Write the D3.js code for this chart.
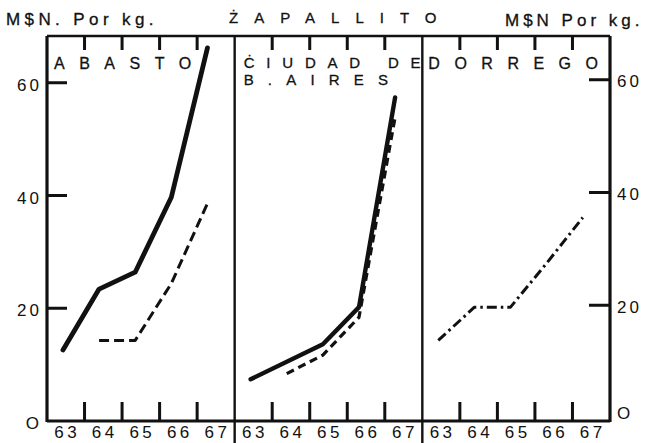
<!DOCTYPE html>
<html>
<head>
<meta charset="utf-8">
<script src="https://cdn.jsdelivr.net/npm/d3@7"></script>
<style>
  html, body { margin: 0; padding: 0; background: #fff; }
  svg { display: block; font-family: "Liberation Sans", Arial, sans-serif; }
  text { fill: #111; }
</style>
</head>
<body>
<svg id="chart" width="651" height="443"></svg>
<script>
// ---------------- data ----------------
const title = "ŻAPALLITO";
const unitLeft = "M$N. Por kg.";
const unitRight = "M$N Por kg.";
const years = ["63", "64", "65", "66", "67"];
const yTicks = [20, 40, 60];
const yLabels = [0, 20, 40, 60];
const panelNames = ["abasto", "ciudad", "dorrego"];
const panelLabels = [["ABASTO"], ["ĊIUDAD DE", "B.AIRES"], ["DORREGO"]];

// Abasto
const abastoSolidYears = ["63", "64", "65", "66", "67"];
const abastoSolid = [12.6, 23.4, 26.4, 39.7, 66.2];
const abastoDashedYears = ["64", "65", "66", "67"];
const abastoDashed = [14.3, 14.3, 24.4, 38.6];
// Ciudad de Buenos Aires
const ciudadSolidYears = ["63", "65", "66", "67"];
const ciudadSolid = [7.4, 13.6, 20.2, 57.4];
const ciudadDashedYears = ["64", "65", "66", "67"];
const ciudadDashed = [8.4, 11.7, 18.4, 53.9];
// Dorrego
const dorregoDashDotYears = ["63", "64", "65", "66", "67"];
const dorregoDashDot = [14.3, 20.2, 20.2, 28.0, 36.1];

// ---------------- layout ----------------
const svg = d3.select("#chart");
const W = 651, H = 443;
const margin = { top: 36, right: 41, bottom: 22, left: 47 };
const plotBottom = H - margin.bottom;
const ink = "#111";

const px = d3.scaleBand().domain(panelNames).range([margin.left, W - margin.right]);
const pw = px.bandwidth();
const y = d3.scaleLinear().domain([0, 68.3]).range([plotBottom, margin.top]);
const xBand = d3.scaleBand().domain(years).range([0, pw]);
const xEdge = d3.scaleLinear().domain([0, years.length]).range([0, pw]);
const xPt = d3.scalePoint().domain(years).range([pw * 0.085, pw * 0.855]);
const x0 = margin.left, x1 = W - margin.right;

const series = [
  { panel: "abasto", years: abastoSolidYears, values: abastoSolid, width: 4.8, dash: null },
  { panel: "abasto", years: abastoDashedYears, values: abastoDashed, width: 3, dash: "10,5" },
  { panel: "ciudad", years: ciudadSolidYears, values: ciudadSolid, width: 4.4, dash: null },
  { panel: "ciudad", years: ciudadDashedYears, values: ciudadDashed, width: 3.2, dash: "8,5" },
  { panel: "dorrego", years: dorregoDashDotYears, values: dorregoDashDot, width: 3, dash: "10,4,2.5,4" }
];

function labelAxis(g) {
  g.select(".domain").remove();
  g.selectAll(".tick line").remove();
  g.selectAll(".tick text").attr("fill", ink)
    .attr("font-size", 17).attr("font-family", "Liberation Sans, Arial, sans-serif");
}

// tick marks: one path per group, positions from the scales
function drawTicks(segments, w) {
  const p = d3.path();
  segments.forEach(([ax, ay, bx, by]) => { p.moveTo(ax, ay); p.lineTo(bx, by); });
  svg.append("path")
    .attr("d", p.toString())
    .attr("fill", "none")
    .attr("stroke", ink)
    .attr("stroke-width", w);
}

// ---------------- panels ----------------
panelNames.forEach((name, i) => {
  const g = svg.append("g").attr("transform", `translate(${px(name)},0)`);
  const ox = px(name);
  const innerEdges = d3.range(1, years.length);

  drawTicks(innerEdges.map(e => [ox + xEdge(e), plotBottom, ox + xEdge(e), plotBottom - 19]), 3);
  drawTicks(innerEdges.map(e => [ox + xEdge(e), margin.top, ox + xEdge(e), margin.top + 14]), 3);

  // year labels centred in bands
  g.append("g").attr("transform", `translate(0,${plotBottom})`)
    .call(d3.axisBottom(xBand).tickSize(0).tickPadding(5))
    .call(labelAxis)
    .call(a => a.selectAll(".tick text").attr("letter-spacing", 3.5).attr("dx", 1.5));

  // panel label
  const fs = name === "ciudad" ? 15 : 16;
  panelLabels[i].forEach((lbl, j) => {
    const spacing = name === "ciudad" ? (j === 0 ? 11.8 : 14.2) : 14.5;
    g.append("text")
      .attr("x", name === "dorrego" ? 6 : (name === "ciudad" ? 9 : 7))
      .attr("y", (name === "ciudad" ? 68 : 69) + j * 17)
      .attr("font-size", fs)
      .attr("letter-spacing", spacing)
      .attr("stroke", ink).attr("stroke-width", 0.3)
      .text(lbl);
  });

  // data lines
  const line = d3.line().x(d => xPt(d.year)).y(d => y(d.v));
  series.filter(s => s.panel === name).forEach(s => {
    const pts = s.years.map((yr, k) => ({ year: yr, v: s.values[k] }));
    g.append("path")
      .attr("d", line(pts))
      .attr("fill", "none")
      .attr("stroke", ink)
      .attr("stroke-width", s.width)
      .attr("stroke-linejoin", "round")
      .attr("stroke-linecap", s.dash ? "butt" : "round")
      .attr("stroke-dasharray", s.dash);
  });
});

// ---------------- frame ----------------
svg.append("line").attr("x1", x0).attr("x2", x0).attr("y1", margin.top).attr("y2", plotBottom + 1)
  .attr("stroke", ink).attr("stroke-width", 3.2);
svg.append("line").attr("x1", x1).attr("x2", x1).attr("y1", margin.top).attr("y2", plotBottom + 1)
  .attr("stroke", ink).attr("stroke-width", 3.2);
svg.append("line").attr("x1", x0).attr("x2", x1).attr("y1", margin.top).attr("y2", margin.top)
  .attr("stroke", ink).attr("stroke-width", 2.6);
svg.append("line").attr("x1", x0).attr("x2", x1).attr("y1", plotBottom).attr("y2", plotBottom)
  .attr("stroke", ink).attr("stroke-width", 2.8);
panelNames.slice(1).forEach(name => {
  svg.append("line").attr("x1", px(name)).attr("x2", px(name))
    .attr("y1", margin.top).attr("y2", H)
    .attr("stroke", ink).attr("stroke-width", 2.4);
});

// ---------------- y axes ----------------
drawTicks(yTicks.map(v => [x0, y(v), x0 + 20, y(v)]), 3);
drawTicks(yTicks.map(v => [x1 - 21, y(v) - 3, x1, y(v) - 3]), 3);

svg.append("g").attr("transform", `translate(${x0},0)`)
  .call(d3.axisLeft(y).tickValues(yLabels).tickSize(0).tickPadding(5)
    .tickFormat(d => d === 0 ? "O" : d))
  .call(labelAxis)
  .call(a => a.selectAll(".tick text").attr("letter-spacing", 3).attr("dy", "0.45em"));
svg.append("g").attr("transform", `translate(${x1},-3)`)
  .call(d3.axisRight(y).tickValues(yLabels).tickSize(0).tickPadding(7)
    .tickFormat(d => d === 0 ? "O" : d))
  .call(labelAxis)
  .call(a => a.selectAll(".tick text").attr("letter-spacing", 3).attr("dy", d => d === 0 ? "0" : "0.4em"));

// ---------------- titles ----------------
svg.append("text").attr("x", 6).attr("y", 25)
  .attr("font-size", 17).attr("letter-spacing", 4.4)
  .attr("stroke", ink).attr("stroke-width", 0.3)
  .text(unitLeft);
svg.append("text").attr("x", 505).attr("y", 26)
  .attr("font-size", 17).attr("letter-spacing", 4.0)
  .attr("stroke", ink).attr("stroke-width", 0.3)
  .text(unitRight);
svg.append("text").attr("x", 229).attr("y", 23)
  .attr("font-size", 15).attr("letter-spacing", 16)
  .attr("stroke", ink).attr("stroke-width", 0.3)
  .text(title);
</script>
</body>
</html>
